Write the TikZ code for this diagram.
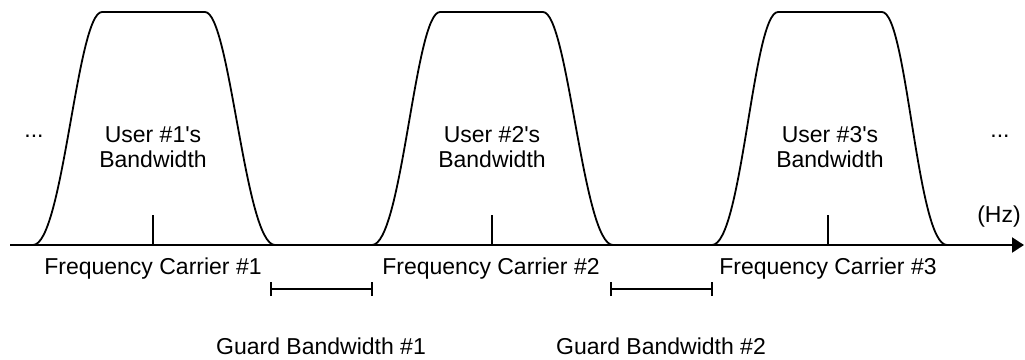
\documentclass[tikz,border=0pt]{standalone}
\usepackage{fontspec}
\setmainfont{Liberation Sans}[Ligatures=ResetAll]
\usetikzlibrary{arrows.meta}
\begin{document}
\begin{tikzpicture}[x=1pt,y=-1pt,
  lbl/.style={inner sep=0pt,anchor=base,font=\fontsize{23}{28}\selectfont},
  pulseline/.style={line width=1.8pt,line join=round},
  tickline/.style={line width=1.8pt},
  axisline/.style={line width=2.2pt,-{Triangle[length=12pt,width=15pt]}},
  guard/.style={line width=1.6pt,{Bar[width=14pt,line width=1.6pt]}-{Bar[width=14pt,line width=1.6pt]}}]
\useasboundingbox (0,0) rectangle (1025,359);

% frequency axis
\coordinate (ax0) at (10,245);
\coordinate (ax1) at (1024,245);
\draw[axisline] (ax0) -- (ax1);

% one band-limited spectrum: base left, top left, top right, base right
\newcommand\bandshape[4]{%
  \draw[pulseline] (#1,245) .. controls ({#1+30},245) and ({#2-25},12) .. (#2,12)
    -- (#3,12) .. controls ({#3+25},12) and ({#4-30},245) .. (#4,245);}
\bandshape{33}{102}{205}{275}
\bandshape{372}{440}{543}{613}
\bandshape{712}{778}{882}{947}

% carrier ticks
\foreach \n/\x in {1/153,2/492,3/828}{
  \coordinate (ct\n) at (\x,215);
  \coordinate (cb\n) at (\x,245);
  \draw[tickline] (ct\n) -- (cb\n);
}

% band labels
\node[lbl] (u1) at (153,142) {User \#1\textquotesingle s};
\node[lbl] (b1) at (153,167) {Bandwidth};
\node[lbl] (u2) at (492,142) {User \#2\textquotesingle s};
\node[lbl] (b2) at (492,167) {Bandwidth};
\node[lbl] (u3) at (830,142) {User \#3\textquotesingle s};
\node[lbl] (b3) at (830,167) {Bandwidth};

\node[lbl] (dl) at (34,137) {...};
\node[lbl] (dr) at (1000,137) {...};
\node[lbl] (hz) at (999,222) {(Hz)};

% carrier labels
\node[lbl] (f1) at (153,274) {Frequency Carrier \#1};
\node[lbl] (f2) at (491,274) {Frequency Carrier \#2};
\node[lbl] (f3) at (828,274) {Frequency Carrier \#3};

% guard bands
\coordinate (g1a) at (270,289);
\coordinate (g1b) at (373,289);
\coordinate (g2a) at (610,289);
\coordinate (g2b) at (713,289);
\draw[guard] (g1a) -- (g1b);
\draw[guard] (g2a) -- (g2b);
\node[lbl] (gl1) at (321,354) {Guard Bandwidth \#1};
\node[lbl] (gl2) at (661,354) {Guard Bandwidth \#2};
\end{tikzpicture}
\end{document}
